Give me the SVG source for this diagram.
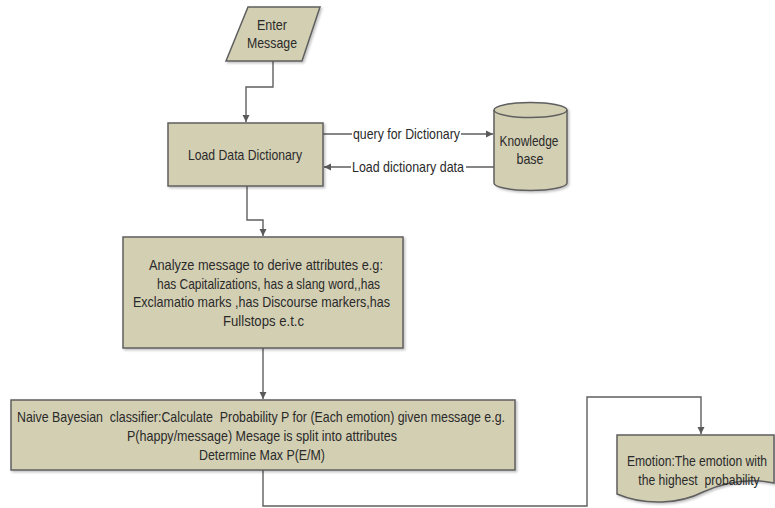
<svg xmlns="http://www.w3.org/2000/svg" width="775" height="508" viewBox="0 0 775 508">
<style>
.shape{fill:#d3cfb3;stroke:#5f5f5f;stroke-width:1.5;filter:url(#sh)}
.t{font-family:"Liberation Sans",Arial,sans-serif;font-size:15px;fill:#2a2a2a;text-anchor:middle}
.c{fill:none;stroke:#5f5f5f;stroke-width:1.4}
.lbl{font-family:"Liberation Sans",Arial,sans-serif;font-size:15px;fill:#2a2a2a}
</style>
<defs>
<filter id="sh" x="-10%" y="-10%" width="130%" height="130%">
<feDropShadow dx="1.5" dy="1.5" stdDeviation="1.2" flood-color="#000" flood-opacity="0.25"/>
</filter>
<marker id="ah" markerWidth="8" markerHeight="8" refX="7" refY="4" orient="auto" markerUnits="userSpaceOnUse">
<path d="M0,0.5 L7,4 L0,7.5 Z" fill="#5a5a5a"/>
</marker>
</defs>
<rect width="775" height="508" fill="#ffffff"/>

<g id="connectors">
<path class="c" d="M273,61 V87 H246 V122" marker-end="url(#ah)"/>
<path class="c" d="M323,134 H352 M461,134 H493" marker-end="url(#ah)"/>
<path class="c" d="M494,167 H466 M351,167 H324" marker-end="url(#ah)"/>
<path class="c" d="M247,186 V220 H263 V236" marker-end="url(#ah)"/>
<path class="c" d="M263,348 V399" marker-end="url(#ah)"/>
<path class="c" d="M263,470 V506 H587 V397 H701 V434" marker-end="url(#ah)"/>
<text class="lbl" x="353" y="139" textLength="107" lengthAdjust="spacingAndGlyphs">query for Dictionary</text>
<text class="lbl" x="352" y="172" textLength="112" lengthAdjust="spacingAndGlyphs">Load dictionary data</text>
</g>

<g id="enter-message">
<polygon class="shape" points="248,7 320,7 302,61 226,61"/>
<text class="t" x="272" y="30" textLength="30" lengthAdjust="spacingAndGlyphs">Enter</text>
<text class="t" x="272" y="48" textLength="50" lengthAdjust="spacingAndGlyphs">Message</text>
</g>

<g id="load-data-dictionary">
<rect class="shape" x="168" y="123" width="155" height="63"/>
<text class="t" x="245" y="160" textLength="114" lengthAdjust="spacingAndGlyphs">Load Data Dictionary</text>
</g>

<g id="knowledge-base">
<path class="shape" d="M494,110 A36.5,7.5 0 0 1 567,110 V183 A36.5,7.5 0 0 1 494,183 Z"/>
<path d="M494,110 A36.5,7.5 0 0 0 567,110" fill="none" stroke="#5f5f5f" stroke-width="1.5"/>
<text class="t" x="529" y="146" textLength="59" lengthAdjust="spacingAndGlyphs">Knowledge</text>
<text class="t" x="530" y="164" textLength="27" lengthAdjust="spacingAndGlyphs">base</text>
</g>

<g id="analyze-message">
<rect class="shape" x="123" y="237" width="280" height="111"/>
<text class="t" x="266" y="270" textLength="234" lengthAdjust="spacingAndGlyphs">Analyze message to derive attributes e.g:</text>
<text class="t" x="268.5" y="289" textLength="223" lengthAdjust="spacingAndGlyphs">has Capitalizations, has a slang word,,has</text>
<text class="t" x="261.5" y="307" textLength="257" lengthAdjust="spacingAndGlyphs">Exclamatio marks ,has Discourse markers,has</text>
<text class="t" x="263.5" y="326" textLength="81" lengthAdjust="spacingAndGlyphs">Fullstops e.t.c</text>
</g>

<g id="naive-bayesian">
<rect class="shape" x="11" y="400" width="504" height="70"/>
<text class="t" x="261" y="422" textLength="488" lengthAdjust="spacingAndGlyphs" xml:space="preserve">Naive Bayesian  classifier:Calculate  Probability P for (Each emotion) given message e.g.</text>
<text class="t" x="262" y="441" textLength="270" lengthAdjust="spacingAndGlyphs">P(happy/message) Mesage is split into attributes</text>
<text class="t" x="262" y="460" textLength="126" lengthAdjust="spacingAndGlyphs">Determine Max P(E/M)</text>
</g>

<g id="emotion-output">
<path class="shape" d="M617,435 H774 V483 C750,478 725,482 703,492 C680,504 645,506 617,494 Z"/>
<text class="t" transform="translate(697,466) scale(0.81,1)" x="0" y="0">Emotion:The emotion with</text>
<text class="t" transform="translate(699,485) scale(0.81,1)" x="0" y="0" xml:space="preserve">the highest  probability</text>
</g>
</svg>
